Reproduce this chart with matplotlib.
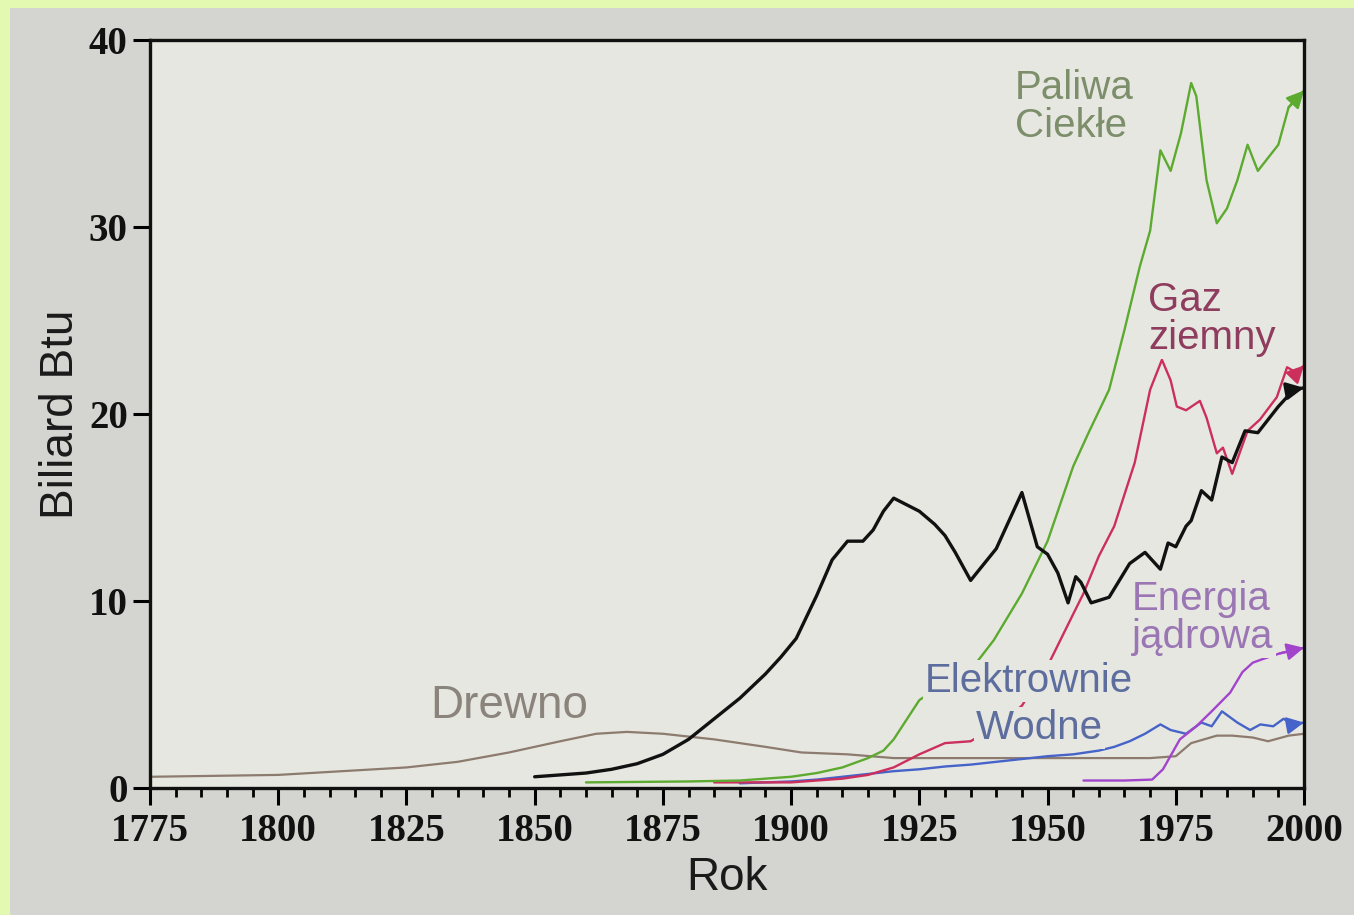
import matplotlib.pyplot as plt
from matplotlib.patches import Rectangle
from matplotlib.ticker import MultipleLocator

# US energy consumption by source, quadrillion Btu
wood_years = [1775, 1800, 1825, 1835, 1845, 1855, 1862, 1868, 1875, 1885,
              1895, 1902, 1911, 1920, 1931, 1950, 1970, 1975, 1978, 1983,
              1986, 1990, 1993, 1997, 2000]
wood_vals = [0.6, 0.7, 1.1, 1.4, 1.9, 2.5, 2.9, 3.0, 2.9, 2.6,
             2.2, 1.9, 1.8, 1.6, 1.6, 1.6, 1.6, 1.7, 2.4, 2.8,
             2.8, 2.7, 2.5, 2.8, 2.9]

coal_years = [1850, 1855, 1860, 1865, 1870, 1875, 1880, 1885, 1890, 1895,
              1898, 1901, 1905, 1908, 1911, 1914, 1916, 1918, 1920, 1925,
              1928, 1930, 1932, 1935, 1940, 1945, 1948, 1950, 1952, 1954,
              1955.5, 1956.5, 1958.5, 1962, 1966, 1969, 1972, 1973.5, 1975,
              1977, 1978, 1980, 1982, 1984, 1986, 1988.5, 1991, 1995, 1998,
              2000]
coal_vals = [0.6, 0.7, 0.8, 1.0, 1.3, 1.8, 2.6, 3.7, 4.8, 6.1,
             7.0, 8.0, 10.3, 12.2, 13.2, 13.2, 13.8, 14.8, 15.5, 14.8,
             14.1, 13.5, 12.6, 11.1, 12.8, 15.8, 12.9, 12.5, 11.5, 9.9,
             11.3, 11.0, 9.9, 10.2, 12.0, 12.6, 11.7, 13.1, 12.9,
             14.0, 14.3, 15.9, 15.4, 17.7, 17.4, 19.1, 19.0, 20.4, 21.3,
             21.4]

oil_years = [1860, 1880, 1890, 1900, 1905, 1910, 1915, 1918, 1920, 1925,
             1930, 1935, 1939.5, 1945, 1950, 1955, 1958, 1962, 1965, 1968,
             1970, 1972, 1974, 1976, 1978, 1979, 1981, 1983, 1985, 1987,
             1989, 1991, 1993, 1995, 1997, 2000]
oil_vals = [0.3, 0.35, 0.4, 0.6, 0.8, 1.1, 1.6, 2.0, 2.6, 4.7,
            5.6, 6.3, 7.9, 10.4, 13.2, 17.2, 19.0, 21.3, 24.5, 27.9,
            29.8, 34.1, 33.0, 35.0, 37.7, 37.0, 32.5, 30.2, 31.0, 32.5,
            34.4, 33.0, 33.7, 34.4, 36.4, 37.3]

gas_years = [1885, 1890, 1900, 1910, 1915, 1920, 1925, 1930, 1935, 1940,
             1945, 1950.5, 1955, 1957, 1960, 1963, 1967, 1970, 1972.3,
             1974, 1975.2, 1977, 1979.7, 1981, 1983, 1984.2, 1986, 1989,
             1991.4, 1994.7, 1996.7, 1998.6, 2000]
gas_vals = [0.3, 0.3, 0.3, 0.5, 0.7, 1.1, 1.8, 2.4, 2.5, 3.3,
            4.4, 6.8, 9.3, 10.4, 12.4, 14.0, 17.4, 21.3, 22.9,
            21.8, 20.4, 20.2, 20.7, 19.8, 17.9, 18.2, 16.8, 19.1,
            19.7, 20.9, 22.5, 22.2, 22.6]

hydro_years = [1890, 1900, 1905, 1910, 1915, 1920, 1925, 1930, 1935, 1940,
               1945, 1950, 1955, 1960, 1963, 1966, 1969, 1972, 1974, 1977,
               1980, 1982, 1984, 1987, 1989.5, 1991.5, 1994, 1996, 1998, 2000]
hydro_vals = [0.25, 0.35, 0.45, 0.6, 0.75, 0.9, 1.0, 1.15, 1.25, 1.4,
              1.55, 1.7, 1.8, 2.0, 2.2, 2.5, 2.9, 3.4, 3.1, 2.9,
              3.5, 3.3, 4.1, 3.5, 3.1, 3.4, 3.3, 3.7, 3.4, 3.5]

nuclear_years = [1957, 1965, 1970.4, 1972.5, 1975.8, 1979, 1982, 1985.6,
                 1988, 1990, 1992, 1995.3, 2000]
nuclear_vals = [0.4, 0.4, 0.45, 1.0, 2.6, 3.3, 4.1, 5.1,
                6.2, 6.7, 6.9, 7.2, 7.5]

x_ticks = [1775, 1800, 1825, 1850, 1875, 1900, 1925, 1950, 1975, 2000]
y_ticks = [0, 10, 20, 30, 40]

AX_BG = '#e7e7e1'


def plot_series(ax, years, vals, color, lw):
    """Draws one source as a line that ends with an arrow head."""
    ax.plot(years, vals, color=color, lw=lw, solid_capstyle='round',
            solid_joinstyle='round', zorder=2)
    if years[-1] == 2000 and years[0] > 1775:
        ax.annotate('', xy=(years[-1], vals[-1]),
                    xytext=(years[-2], vals[-2]),
                    arrowprops=dict(arrowstyle='-|>', color=color, lw=lw,
                                    mutation_scale=26, shrinkA=0,
                                    shrinkB=0),
                    zorder=2)


def label(ax, x, y, txt, color, size=29):
    ax.text(x, y, txt, color=color, fontsize=size, ha='left', va='center',
            family='Liberation Sans', linespacing=1.0, zorder=3,
            bbox=dict(boxstyle='square,pad=0.05', fc=AX_BG, ec='none'))


def main():
    fig = plt.figure(figsize=(13.54, 9.15), dpi=100, facecolor='#e3f9b2')
    # gray panel behind the chart, leaving a thin green frame top/left
    fig.patches.append(Rectangle((10 / 1354, 0), 1, 1 - 8 / 915,
                                 transform=fig.transFigure,
                                 fc='#d4d4d0', ec='none', zorder=-1))
    ax = fig.add_axes([150 / 1354, 1 - 788 / 915, 1154 / 1354, 748 / 915])
    ax.set_facecolor(AX_BG)

    plot_series(ax, wood_years, wood_vals, '#8c7b6e', 1.6)
    plot_series(ax, hydro_years, hydro_vals, '#4563c8', 1.7)
    plot_series(ax, nuclear_years, nuclear_vals, '#a145cc', 1.7)
    plot_series(ax, gas_years, gas_vals, '#cc2f5c', 1.7)
    plot_series(ax, oil_years, oil_vals, '#5caa30', 1.7)
    plot_series(ax, coal_years, coal_vals, '#111111', 2.4)

    label(ax, 1943.6, 36.4, 'Paliwa\nCiekłe', '#7d8e6b')
    label(ax, 1969.6, 25.1, 'Gaz\nziemny', '#8e3d5e')
    label(ax, 1966.5, 9.1, 'Energia\njądrowa', '#9a76b4')
    label(ax, 1926.1, 5.7, 'Elektrownie', '#5d6d9e')
    label(ax, 1936.1, 3.2, 'Wodne', '#5d6d9e')
    label(ax, 1829.6, 4.4, 'Drewno', '#8a847c', size=33)

    ax.set_xlim(1775, 2000)
    ax.set_ylim(0, 40)
    ax.set_xticks(x_ticks)
    ax.set_yticks(y_ticks)
    ax.xaxis.set_minor_locator(MultipleLocator(5))
    ax.tick_params(axis='x', which='major', length=12, width=2.2,
                   direction='out', pad=6)
    ax.tick_params(axis='x', which='minor', length=6.5, width=2.0,
                   direction='out')
    ax.tick_params(axis='y', which='major', length=12, width=2.2,
                   direction='out', pad=4)
    for lab in ax.get_xticklabels() + ax.get_yticklabels():
        lab.set_fontfamily('Liberation Serif')
        lab.set_fontweight('bold')
        lab.set_fontsize(28)
        lab.set_color('#111111')
    for sp in ax.spines.values():
        sp.set_linewidth(2.4)
        sp.set_color('#111111')

    ax.set_xlabel('Rok', fontsize=33, family='Liberation Sans',
                  color='#1a1a1a', labelpad=4)
    ax.set_ylabel('Biliard Btu', fontsize=33, family='Liberation Sans',
                  color='#1a1a1a', labelpad=4)

    fig.savefig('out.png', dpi=100, facecolor=fig.get_facecolor())


if __name__ == '__main__':
    main()
